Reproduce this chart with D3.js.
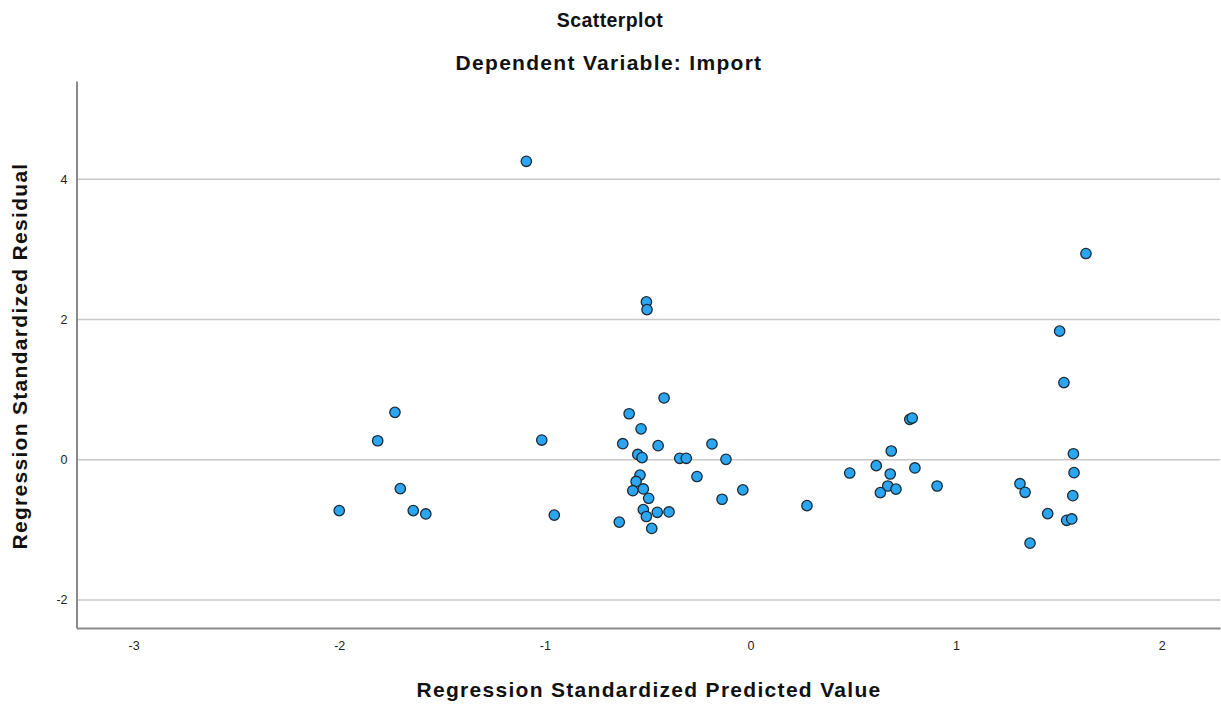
<!DOCTYPE html>
<html>
<head>
<meta charset="utf-8">
<script src="https://cdn.jsdelivr.net/npm/d3@7"></script>
<style>
  body { margin: 0; background: #fff; }
  svg { display: block; font-family: "Liberation Sans", Arial, sans-serif; }
</style>
</head>
<body>
<svg id="chart" width="1221" height="705"></svg>
<script>
// regression standardized predicted value (x) and residual (y)
var predicted = [
  -1.09, -0.506, -0.503, 1.632, 1.504, 1.525,
  -1.729, -1.813, -1.015, -1.703, -2.0, -1.64, -1.579, -0.954,
  -0.42, -0.59, -0.532, -0.621, -0.449, -0.548, -0.527, -0.344, -0.312,
  -0.187, -0.119, -0.26, -0.537, -0.556, -0.572, -0.521, -0.495,
  -0.037, -0.138, -0.521, -0.506, -0.453, -0.396, -0.638, -0.48,
  0.775, 0.787, 0.685, 0.612, 0.483, 0.80, 0.68, 0.668, 0.708, 0.632, 0.908, 0.275,
  1.311, 1.336, 1.571, 1.574, 1.568, 1.446, 1.538, 1.563, 1.36
];
var residual = [
  4.255, 2.25, 2.14, 2.94, 1.833, 1.10,
  0.675, 0.27, 0.28, -0.413, -0.726, -0.726, -0.774, -0.79,
  0.88, 0.655, 0.44, 0.228, 0.2, 0.075, 0.03, 0.02, 0.02,
  0.224, 0.005, -0.24, -0.22, -0.31, -0.442, -0.417, -0.55,
  -0.43, -0.564, -0.712, -0.81, -0.75, -0.745, -0.89, -0.98,
  0.575, 0.594, 0.124, -0.085, -0.19, -0.118, -0.204, -0.375, -0.42, -0.47, -0.375, -0.655,
  -0.342, -0.465, 0.085, -0.185, -0.513, -0.769, -0.864, -0.845, -1.19
];
var xTicks = [-3, -2, -1, 0, 1, 2];
var yTicks = [-2, 0, 2, 4];

var svg = d3.select("#chart");
var plotLeft = 76.5, plotRight = 1220, plotTop = 81, plotBottom = 628;

var x = d3.scaleLinear().domain([-3.278, 2.284]).range([plotLeft, plotRight]);
var y = d3.scaleLinear().domain([-2.4, 5.4]).range([plotBottom, plotTop]);

var data = predicted.map(function(d, i){ return {x: d, y: residual[i]}; });

// horizontal grid lines
svg.append("g").selectAll("line")
  .data(yTicks)
  .enter()
  .append("line")
  .attr("x1", plotLeft).attr("x2", plotRight)
  .attr("y1", function(d){ return y(d); })
  .attr("y2", function(d){ return y(d); })
  .attr("stroke", "#c8c8c8")
  .attr("stroke-width", 1.5);

// axes (plain hyphen minus like the original)
var fmt = function(d){ return String(d); };
var xAxis = svg.append("g")
  .attr("transform", "translate(0," + plotBottom + ")")
  .call(d3.axisBottom(x).tickValues(xTicks).tickSize(0).tickPadding(13).tickFormat(fmt));
var yAxis = svg.append("g")
  .attr("transform", "translate(" + plotLeft + ",0)")
  .call(d3.axisLeft(y).tickValues(yTicks).tickSize(0).tickPadding(9).tickFormat(fmt));

[xAxis, yAxis].forEach(function(a){
  a.select(".domain").attr("stroke", "#8a8a8a").attr("stroke-width", 2);
  a.selectAll("text").attr("font-size", 12.5).attr("fill", "#222")
    .attr("font-family", "'Liberation Sans', Arial, sans-serif");
});

// points
svg.append("g").selectAll("circle")
  .data(data)
  .enter()
  .append("circle")
  .attr("cx", function(d){ return x(d.x); })
  .attr("cy", function(d){ return y(d.y); })
  .attr("r", 5.2)
  .attr("fill", "#2ba6f2")
  .attr("stroke", "#1c2a33")
  .attr("stroke-width", 1.3);

// titles
function label(t, size, spacing){
  return t.attr("font-size", size).attr("font-weight", "bold")
    .attr("letter-spacing", spacing).attr("fill", "#111")
    .attr("text-anchor", "middle");
}
label(svg.append("text").attr("x", 610).attr("y", 27), 19.5, 0.4).text("Scatterplot");
label(svg.append("text").attr("x", 609).attr("y", 70), 21, 1.3).text("Dependent Variable: Import");
label(svg.append("text").attr("x", 649).attr("y", 697), 21, 1.3).text("Regression Standardized Predicted Value");
label(svg.append("text").attr("transform", "translate(27,356) rotate(-90)"), 21, 1.3)
  .text("Regression Standardized Residual");
</script>
</body>
</html>
